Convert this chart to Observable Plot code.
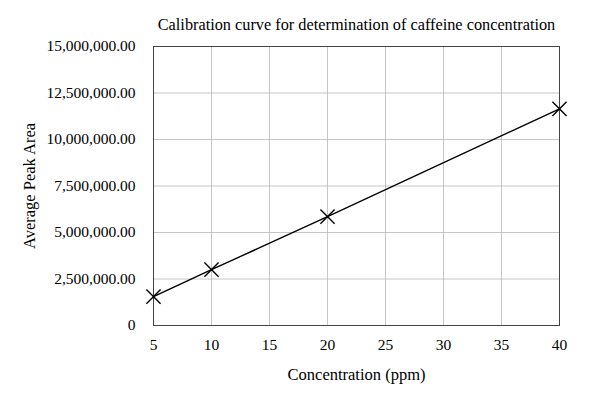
<!DOCTYPE html>
<html>
<head>
<meta charset="utf-8">
<script src="https://cdn.jsdelivr.net/npm/d3@7"></script>
<script src="https://cdn.jsdelivr.net/npm/@observablehq/plot@0.6"></script>
<style>
  html, body { margin: 0; padding: 0; background: #fff; }
  #chart svg { display: block; }
</style>
</head>
<body>
<div id="chart"></div>
<script>
const concentration = [5, 10, 20, 40];
const peakArea = [1550000, 3000000, 5850000, 11650000];
const xTicks = [5, 10, 15, 20, 25, 30, 35, 40];
const yTicks = [0, 2500000, 5000000, 7500000, 10000000, 12500000, 15000000];
const title = "Calibration curve for determination of caffeine concentration";
const xLabel = "Concentration (ppm)";
const yLabel = "Average Peak Area";

const data = concentration.map((c, i) => ({c, a: peakArea[i]}));
const fmtY = d => d === 0 ? "0" : d3.format(",.2f")(d);
const font = "'Liberation Serif', 'DejaVu Serif', serif";

const chart = Plot.plot({
  width: 607,
  height: 397,
  marginLeft: 153,
  marginRight: 48,
  marginTop: 46,
  marginBottom: 72,
  style: {fontFamily: font, fontSize: "15px", color: "#000", background: "#fff"},
  x: {domain: [5, 40], ticks: xTicks},
  y: {domain: [0, 15000000], ticks: yTicks},
  marks: [
    Plot.ruleX(xTicks, {stroke: "#b8b8b8", strokeWidth: 0.8}),
    Plot.ruleY(yTicks, {stroke: "#b8b8b8", strokeWidth: 0.8}),
    Plot.frame({stroke: "#444", strokeWidth: 1}),
    Plot.axisX(xTicks, {tickSize: 0, tickPadding: 13, fontSize: 15.5, label: null}),
    Plot.axisY(yTicks, {tickSize: 0, tickPadding: 18, fontSize: 15.5, tickFormat: fmtY, label: null}),
    Plot.text([xLabel], {frameAnchor: "bottom", dy: 54, fontSize: 16.5, fill: "#000"}),
    Plot.text([yLabel], {frameAnchor: "left", dx: -124, rotate: -90, textAnchor: "middle", fontSize: 16.5, fill: "#000"}),
    Plot.text([title], {frameAnchor: "top", dy: -28, fontSize: 16.3, fill: "#000"}),
    Plot.line(data, {x: "c", y: "a", stroke: "#000", strokeWidth: 1.4}),
    Plot.dot(data, {x: "c", y: "a", symbol: "times", r: 6.5, stroke: "#000", strokeWidth: 1.4})
  ]
});
document.getElementById("chart").appendChild(chart);
</script>
</body>
</html>
